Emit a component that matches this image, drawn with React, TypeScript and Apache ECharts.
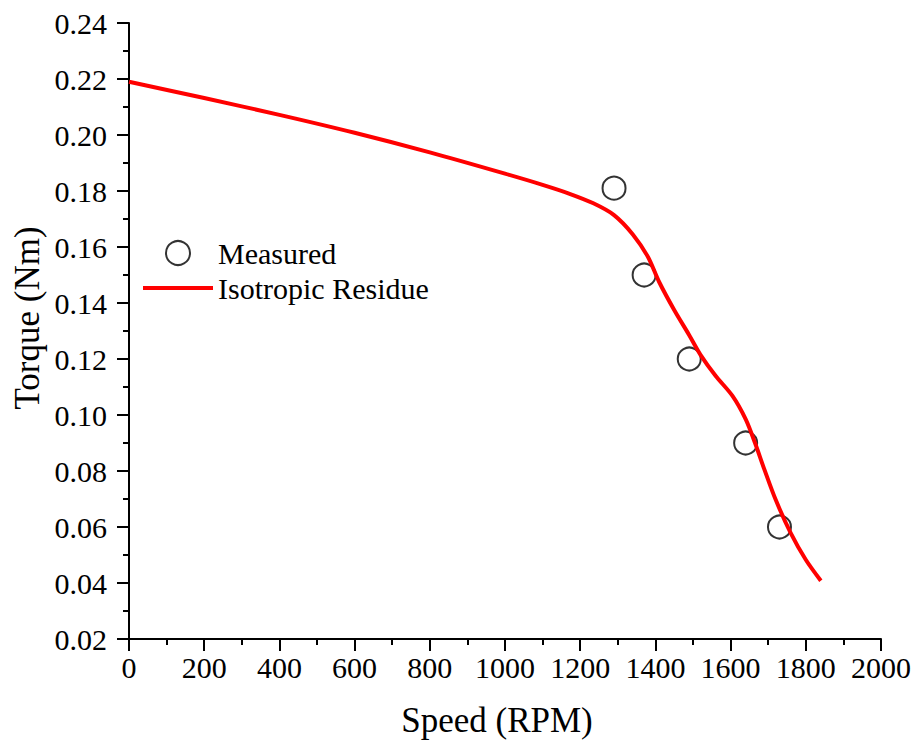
import React, { useEffect, useRef } from "react";
import * as echarts from "echarts";

const measuredSpeed = [1290, 1370, 1490, 1640, 1730];
const measuredTorque = [0.181, 0.150, 0.120, 0.090, 0.060];

const fitSpeed = [0, 200, 400, 600, 800, 1000, 1100, 1170, 1235, 1290, 1340, 1380, 1410, 1450, 1490, 1520, 1560, 1605, 1640, 1665, 1690, 1720, 1760, 1800, 1840];
const fitTorque = [0.219, 0.2132, 0.2072, 0.2008, 0.1938, 0.1862, 0.1822, 0.1791, 0.1756, 0.1714, 0.1645, 0.1565, 0.1475, 0.1375, 0.1285, 0.1215, 0.114, 0.1068, 0.0985, 0.090, 0.0805, 0.0697, 0.0578, 0.0483, 0.0408];

const xTicks = { min: 0, max: 2000, interval: 200 };
const yTicks = { min: 0.02, max: 0.24, interval: 0.02 };

const FONT = "'Liberation Serif', 'Times New Roman', serif";

export default function App() {
  const ref = useRef<HTMLDivElement>(null);
  useEffect(() => {
    if (!ref.current) return;
    const chart = echarts.init(ref.current, undefined, { renderer: "svg" });
    const axisCommon = {
      axisLine: { show: true, lineStyle: { color: "#000", width: 2 } },
      axisTick: { show: true, inside: false, length: 12, lineStyle: { color: "#000", width: 2 } },
      minorTick: { show: true, splitNumber: 2, length: 6, lineStyle: { color: "#000", width: 2 } },
      splitLine: { show: false },
    };
    chart.setOption({
      animation: false,
      backgroundColor: "#fff",
      grid: { left: 129, right: 34, top: 23, bottom: 108, containLabel: false },
      xAxis: {
        type: "value",
        ...xTicks,
        ...axisCommon,
        axisLabel: {
          color: "#000",
          fontFamily: FONT,
          fontSize: 30,
          margin: 13,
          formatter: (v: number) => String(Math.round(v)),
        },
        name: "Speed (RPM)",
        nameLocation: "middle",
        nameGap: 64,
        nameTextStyle: { color: "#000", fontFamily: FONT, fontSize: 35, padding: [0, 16, 0, 0] },
      },
      yAxis: {
        type: "value",
        ...yTicks,
        ...axisCommon,
        axisLabel: {
          color: "#000",
          fontFamily: FONT,
          fontSize: 30,
          margin: 22,
          formatter: (v: number) => v.toFixed(2),
        },
      },
      graphic: [
        {
          type: "text",
          x: 27,
          y: 318,
          rotation: Math.PI / 2,
          style: {
            text: "Torque (Nm)",
            fill: "#000",
            font: `35px ${FONT}`,
            align: "center",
            verticalAlign: "middle",
          },
        },
      ],
      legend: {
        left: 143,
        top: 238,
        padding: 0,
        orient: "vertical",
        itemWidth: 70,
        itemHeight: 24,
        itemGap: 5,
        textStyle: { color: "#000", fontFamily: FONT, fontSize: 30 },
        data: [
          { name: "Measured", icon: "circle" },
          { name: "Isotropic Residue", icon: "path://M0,0H70V4H0Z" },
        ],
      },
      series: [
        {
          name: "Measured",
          type: "scatter",
          symbol: "circle",
          symbolSize: 23,
          itemStyle: { color: "rgba(0,0,0,0)", borderColor: "#000", borderWidth: 2 },
          data: measuredSpeed.map((s, i) => [s, measuredTorque[i]]),
          z: 2,
        },
        {
          name: "Isotropic Residue",
          type: "line",
          smooth: 0.3,
          symbol: "none",
          showSymbol: false,
          lineStyle: { color: "#ff0000", width: 4 },
          itemStyle: { color: "#ff0000" },
          data: fitSpeed.map((s, i) => [s, fitTorque[i]]),
          z: 3,
        },
      ],
    });
    return () => chart.dispose();
  }, []);
  return (
    <div
      ref={ref}
      style={{ position: "fixed", left: 0, top: 0, width: 915, height: 747, background: "#fff" }}
    />
  );
}
